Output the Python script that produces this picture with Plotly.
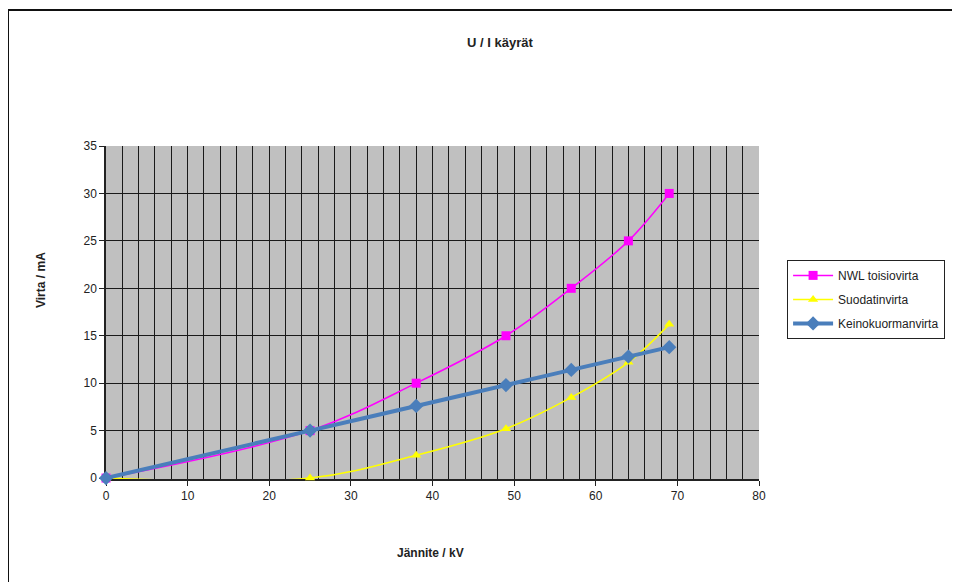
import plotly.graph_objects as go

voltage_kv = [0, 25, 38, 49, 57, 64, 69]
nwl_toisiovirta = [0, 5, 10, 15, 20, 25, 30]
suodatinvirta = [0, 0, 2.4, 5.2, 8.5, 12.2, 16.2]
keinokuormanvirta = [0, 5, 7.6, 9.8, 11.4, 12.8, 13.8]

x_ticks = [0, 10, 20, 30, 40, 50, 60, 70, 80]
y_ticks = [0, 5, 10, 15, 20, 25, 30, 35]

FONT = "Liberation Sans, Arial, sans-serif"

fig = go.Figure()
fig.add_trace(go.Scatter(
    x=voltage_kv, y=nwl_toisiovirta, name="NWL toisiovirta", mode="lines+markers",
    legendgroup="a",
    line=dict(color="#ff00ff", width=1.5, shape="spline", smoothing=1.0),
    marker=dict(symbol="square", size=9, color="#ff00ff"), cliponaxis=False))
fig.add_trace(go.Scatter(
    x=voltage_kv, y=suodatinvirta, name="Suodatinvirta", mode="lines+markers",
    legendgroup="b",
    line=dict(color="#ffff00", width=1.5, shape="spline", smoothing=1.0),
    marker=dict(symbol="triangle-up", size=9, color="#ffff00"), cliponaxis=False))
fig.add_trace(go.Scatter(
    x=voltage_kv, y=keinokuormanvirta, name="Keinokuormanvirta", mode="lines+markers",
    legendgroup="c",
    line=dict(color="#4a7ebb", width=4, shape="spline", smoothing=0.6),
    marker=dict(symbol="diamond", size=11, color="#4a7ebb"), cliponaxis=False))

fig.update_layout(
    width=960, height=582,
    margin=dict(l=98, r=209, t=138, b=111),
    paper_bgcolor="white", plot_bgcolor="#c0c0c0",
    font=dict(family=FONT, size=12, color="#222222"),
    showlegend=True,
    legend=dict(x=1.043, y=0.658, xanchor="left", yanchor="top",
                bordercolor="#222222", borderwidth=1, bgcolor="white",
                font=dict(size=12, family=FONT), itemwidth=40,
                tracegroupgap=5),
    xaxis=dict(range=[0, 80], tickvals=x_ticks, showgrid=True, gridcolor="#1a1a1a", gridwidth=1,
               minor=dict(dtick=2, showgrid=True, gridcolor="#1a1a1a", gridwidth=1),
               showline=True, linecolor="#222222", linewidth=1.5, ticks="outside",
               ticklen=5, tickcolor="#222222", zeroline=False, layer="below traces",
               tickfont=dict(size=12)),
    yaxis=dict(range=[-0.1, 35], tickvals=y_ticks, showgrid=True, gridcolor="#1a1a1a", gridwidth=1,
               showline=True, linecolor="#222222", linewidth=1.5, ticks="outside",
               ticklen=5, tickcolor="#222222", zeroline=False, layer="below traces",
               tickfont=dict(size=12)),
    annotations=[
        dict(text="<b>U / I käyrät</b>", xref="paper", yref="paper",
             x=(500 - 106) / 653, y=(479 - 43) / 333, showarrow=False,
             font=dict(size=13, family=FONT, color="#222222"), xanchor="center", yanchor="middle"),
        dict(text="<b>Jännite / kV</b>", xref="paper", yref="paper",
             x=(430 - 106) / 653, y=(479 - 553) / 333, showarrow=False,
             font=dict(size=12, family=FONT, color="#222222"), xanchor="center", yanchor="middle"),
        dict(text="<b>Virta / mA</b>", xref="paper", yref="paper",
             x=(41 - 106) / 653, y=(479 - 280) / 333, showarrow=False, textangle=-90,
             font=dict(size=12, family=FONT, color="#222222"), xanchor="center", yanchor="middle"),
    ],
    shapes=[
        dict(type="line", xref="paper", yref="paper",
             x0=(8 - 106) / 653, x1=(975 - 106) / 653,
             y0=(479 - 10) / 333, y1=(479 - 10) / 333,
             line=dict(color="#111111", width=2)),
        dict(type="line", xref="paper", yref="paper",
             x0=(8 - 106) / 653, x1=(8 - 106) / 653,
             y0=(479 - 10) / 333, y1=(479 - 600) / 333,
             line=dict(color="#111111", width=2)),
    ],
)

fig.write_html("out.html")
